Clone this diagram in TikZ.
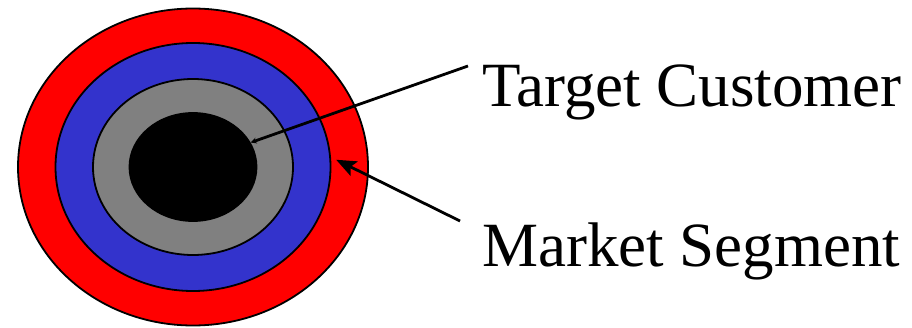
\documentclass[tikz,border=0pt]{standalone}
\usepackage{fontspec}
\setmainfont{Liberation Serif}
\usetikzlibrary{shapes.geometric, arrows.meta}
\definecolor{ringred}{RGB}{255,0,0}
\definecolor{ringblue}{RGB}{51,51,204}
\definecolor{ringgray}{RGB}{128,128,128}

\begin{document}
\begin{tikzpicture}[x = 1pt, y = 1pt,
  ring/.style = {ellipse, draw = black, line width = 1.8pt, inner sep = 0pt},
  label/.style = {anchor = base west, inner sep = 0pt, font = \fontsize{63}{70}\selectfont},
  pointer/.style = {line width = 2.8pt}]
\useasboundingbox (0,0) rectangle (912,327);

% rings, outer to inner
\foreach \name/\col/\w/\h in {market/ringred/350/317, outer/ringblue/275/248,
                              inner/ringgray/200/176, core/black/127/108}{
  \node[ring, fill = \col, minimum width = \w, minimum height = \h] (\name) at (193,160) {};
}

% labels
\node[label] (target) at (482,220) {Target Customer};
\node[label] (segment) at (482,61) {Market Segment};

% pointers
\coordinate (target end) at (468,261);
\coordinate (segment end) at (460,106);
\draw[pointer, -{Stealth[length = 6pt, width = 6pt]}] (target end) -- (core.23);
\draw[pointer, -{Stealth[length = 20pt, width = 16pt, inset = 4pt]}] (segment end) -- ([xshift = 5pt]outer.3);

\end{tikzpicture}
\end{document}
